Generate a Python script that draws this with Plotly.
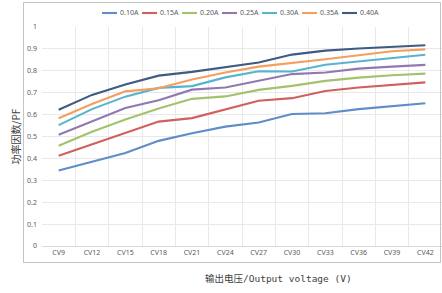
import plotly.graph_objects as go

categories = ["CV9", "CV12", "CV15", "CV18", "CV21", "CV24", "CV27", "CV30", "CV33", "CV36", "CV39", "CV42"]

s_010 = [0.345, 0.385, 0.425, 0.48, 0.515, 0.545, 0.564, 0.603, 0.606, 0.625, 0.638, 0.652]
s_015 = [0.412, 0.465, 0.515, 0.568, 0.584, 0.625, 0.663, 0.675, 0.708, 0.724, 0.736, 0.747]
s_020 = [0.458, 0.522, 0.578, 0.628, 0.672, 0.683, 0.713, 0.731, 0.754, 0.769, 0.780, 0.787]
s_025 = [0.508, 0.568, 0.630, 0.665, 0.714, 0.724, 0.754, 0.785, 0.792, 0.810, 0.819, 0.827]
s_030 = [0.552, 0.625, 0.682, 0.722, 0.730, 0.770, 0.798, 0.797, 0.828, 0.842, 0.858, 0.873]
s_035 = [0.583, 0.648, 0.706, 0.720, 0.760, 0.792, 0.819, 0.835, 0.853, 0.871, 0.889, 0.898]
s_040 = [0.622, 0.690, 0.737, 0.778, 0.795, 0.815, 0.838, 0.874, 0.892, 0.902, 0.910, 0.917]

series_names = ["0.10A", "0.15A", "0.20A", "0.25A", "0.30A", "0.35A", "0.40A"]
series_values = [s_010, s_015, s_020, s_025, s_030, s_035, s_040]
colors = ["#5F8DC8", "#D0605D", "#A3C26B", "#9079B1", "#56B4CF", "#F59E5E", "#3F5B82"]

# plot area geometry (pixels) used to convert legend layout into paper coords
L, T, W, H = 42, 27, 400, 219

def px_x(p):
    return (p - L) / W

def px_y(p):
    return (T + H - p) / H

fig = go.Figure()
for name, vals, c in zip(series_names, series_values, colors):
    fig.add_trace(go.Scatter(x=categories, y=vals, name=name, mode="lines",
                             line=dict(color=c, width=2.1), showlegend=False))

tickfont = dict(family="Noto Sans, Liberation Sans, sans-serif", size=7, color="#595959")

shapes = [dict(type="rect", xref="paper", yref="paper", x0=px_x(23.5), x1=px_x(440.5),
               y0=px_y(262.5), y1=px_y(2.5), line=dict(color="#C4C4C4", width=1),
               fillcolor="rgba(0,0,0,0)", layer="above")]
annotations = []
# custom compact legend (Excel style): 15px key line + label, 40px per entry
leg_x0, leg_step, leg_y = 102, 40, 13
for i, (name, c) in enumerate(zip(series_names, colors)):
    x0 = leg_x0 + i * leg_step
    shapes.append(dict(type="line", xref="paper", yref="paper", x0=px_x(x0), x1=px_x(x0 + 15),
                       y0=px_y(leg_y), y1=px_y(leg_y), line=dict(color=c, width=2.1)))
    annotations.append(dict(text=name, xref="paper", yref="paper", x=px_x(x0 + 16), y=px_y(leg_y),
                            xanchor="left", yanchor="middle", showarrow=False,
                            font=dict(family="Noto Sans, Liberation Sans, sans-serif", size=7,
                                      color="#595959")))

annotations += [
    dict(text="功率因数/PF", xref="paper", yref="paper", x=px_x(15), y=0.5, textangle=-90,
         showarrow=False, xanchor="center", yanchor="middle",
         font=dict(family="Noto Sans CJK SC, sans-serif", size=10, color="#404040")),
    dict(text="输出电压/Output voltage (V)", xref="paper", yref="paper", x=px_x(278), y=px_y(278),
         showarrow=False, xanchor="center", yanchor="middle",
         font=dict(family="DejaVu Sans Mono, Noto Sans CJK SC, monospace", size=9.5, color="#404040")),
]

fig.update_layout(
    width=442, height=293,
    margin=dict(l=L, r=0, t=T, b=293 - T - H),
    paper_bgcolor="white", plot_bgcolor="white",
    showlegend=False,
    xaxis=dict(type="category", range=[-0.5, 11.5], tickson="boundaries", showgrid=True,
               gridcolor="#E9E9E9", gridwidth=1, showline=True, linecolor="#D9D9D9", ticks="",
               tickfont=tickfont, zeroline=False),
    yaxis=dict(range=[0, 1], dtick=0.1, showgrid=True, gridcolor="#E9E9E9", gridwidth=1,
               zeroline=False, showline=False, ticks="", tickfont=tickfont, ticklabelstandoff=4),
    shapes=shapes,
    annotations=annotations,
)

fig.write_html("out.html", config={"displayModeBar": False},
               post_script="document.body.style.margin='0px';document.body.style.overflow='hidden';")
